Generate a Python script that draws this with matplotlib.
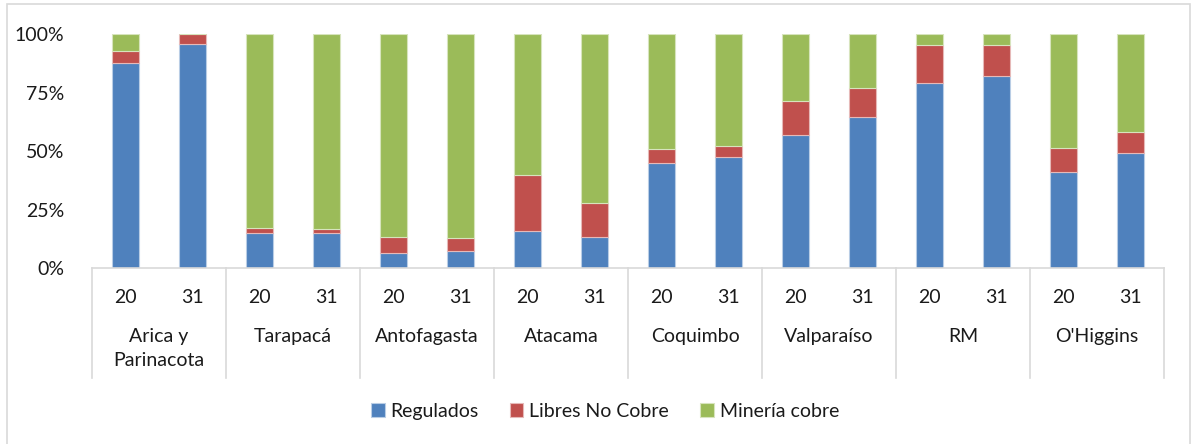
import numpy as np
import matplotlib
matplotlib.use("Agg")
import matplotlib.pyplot as plt
from matplotlib.patches import Rectangle
from matplotlib.transforms import blended_transform_factory

plt.rcParams['font.family'] = ['Lato', 'DejaVu Sans']

# data (shares)
regions = ["Arica y\nParinacota", "Tarapacá", "Antofagasta", "Atacama",
           "Coquimbo", "Valparaíso", "RM", "O'Higgins"]
years = ["20", "31"]
regulados = [0.876, 0.958, 0.150, 0.152, 0.064, 0.073, 0.161, 0.132,
             0.449, 0.477, 0.568, 0.645, 0.792, 0.819, 0.410, 0.491]
libres = [0.053, 0.042, 0.024, 0.016, 0.068, 0.058, 0.236, 0.146,
          0.061, 0.047, 0.146, 0.124, 0.159, 0.132, 0.103, 0.091]
mineria = [1 - a - b for a, b in zip(regulados, libres)]

series = ["Regulados", "Libres No Cobre", "Minería cobre"]
colors = ["#4F81BD", "#C0504D", "#9BBB59"]
edges = ["#B9CDE5", "#E6B9B8", "#D7E4BD"]

fig = plt.figure(figsize=(11.94, 4.44), dpi=100)
W, H = 1194, 444

# outer chart frame
fig.patches.append(Rectangle((7 / W, -0.05), (1190 - 7) / W, 1.05 - 4 / H,
                             transform=fig.transFigure, fill=False,
                             edgecolor="#D9D9D9", linewidth=1.2))

ax = fig.add_axes([92 / W, 1 - 268.3 / H, (1164 - 92) / W, (268.3 - 34) / H])

x = np.arange(len(regulados))
bottom = np.zeros(len(x))
for vals, name, c, e in zip([regulados, libres, mineria], series, colors, edges):
    ax.bar(x, vals, width=0.4, bottom=bottom, color=c, edgecolor=e,
           linewidth=0.8, label=name)
    bottom += np.array(vals)

ax.set_xlim(-0.5, len(x) - 0.5)
ax.set_ylim(0, 1)
ax.set_yticks([0, 0.25, 0.5, 0.75, 1.0])
ax.set_yticklabels(["0%", "25%", "50%", "75%", "100%"])
ax.tick_params(axis='y', length=0, pad=20, labelsize=14, labelcolor="#1a1a1a")
ax.set_xticks([])
for s in ["left", "right", "top"]:
    ax.spines[s].set_visible(False)
ax.spines["bottom"].set_color("#D9D9D9")
ax.spines["bottom"].set_linewidth(1.2)

# multi-level category axis
trans = blended_transform_factory(ax.transData, ax.transAxes)
px = 1 / (268.3 - 34)
for i in range(len(regions) + 1):
    xb = 2 * i - 0.5
    ax.plot([xb, xb], [0, -110 * px], transform=trans, color="#D9D9D9",
            linewidth=1.2, clip_on=False)
for i, xi in enumerate(x):
    ax.text(xi, -29 * px, years[i % 2], transform=trans, ha="center",
            va="center", fontsize=14, color="#1a1a1a")
for g, name in enumerate(regions):
    ax.text(2 * g + 0.5, -60 * px, name, transform=trans, ha="center",
            va="top", fontsize=14, color="#1a1a1a", linespacing=1.45)

fig.legend(loc="center", bbox_to_anchor=(605 / W, 1 - 411 / H), ncol=3,
           frameon=False, fontsize=14, handlelength=0.7, handleheight=0.7,
           handletextpad=0.3, columnspacing=1.6, labelcolor="#1a1a1a")

fig.savefig("out.png", dpi=100)
